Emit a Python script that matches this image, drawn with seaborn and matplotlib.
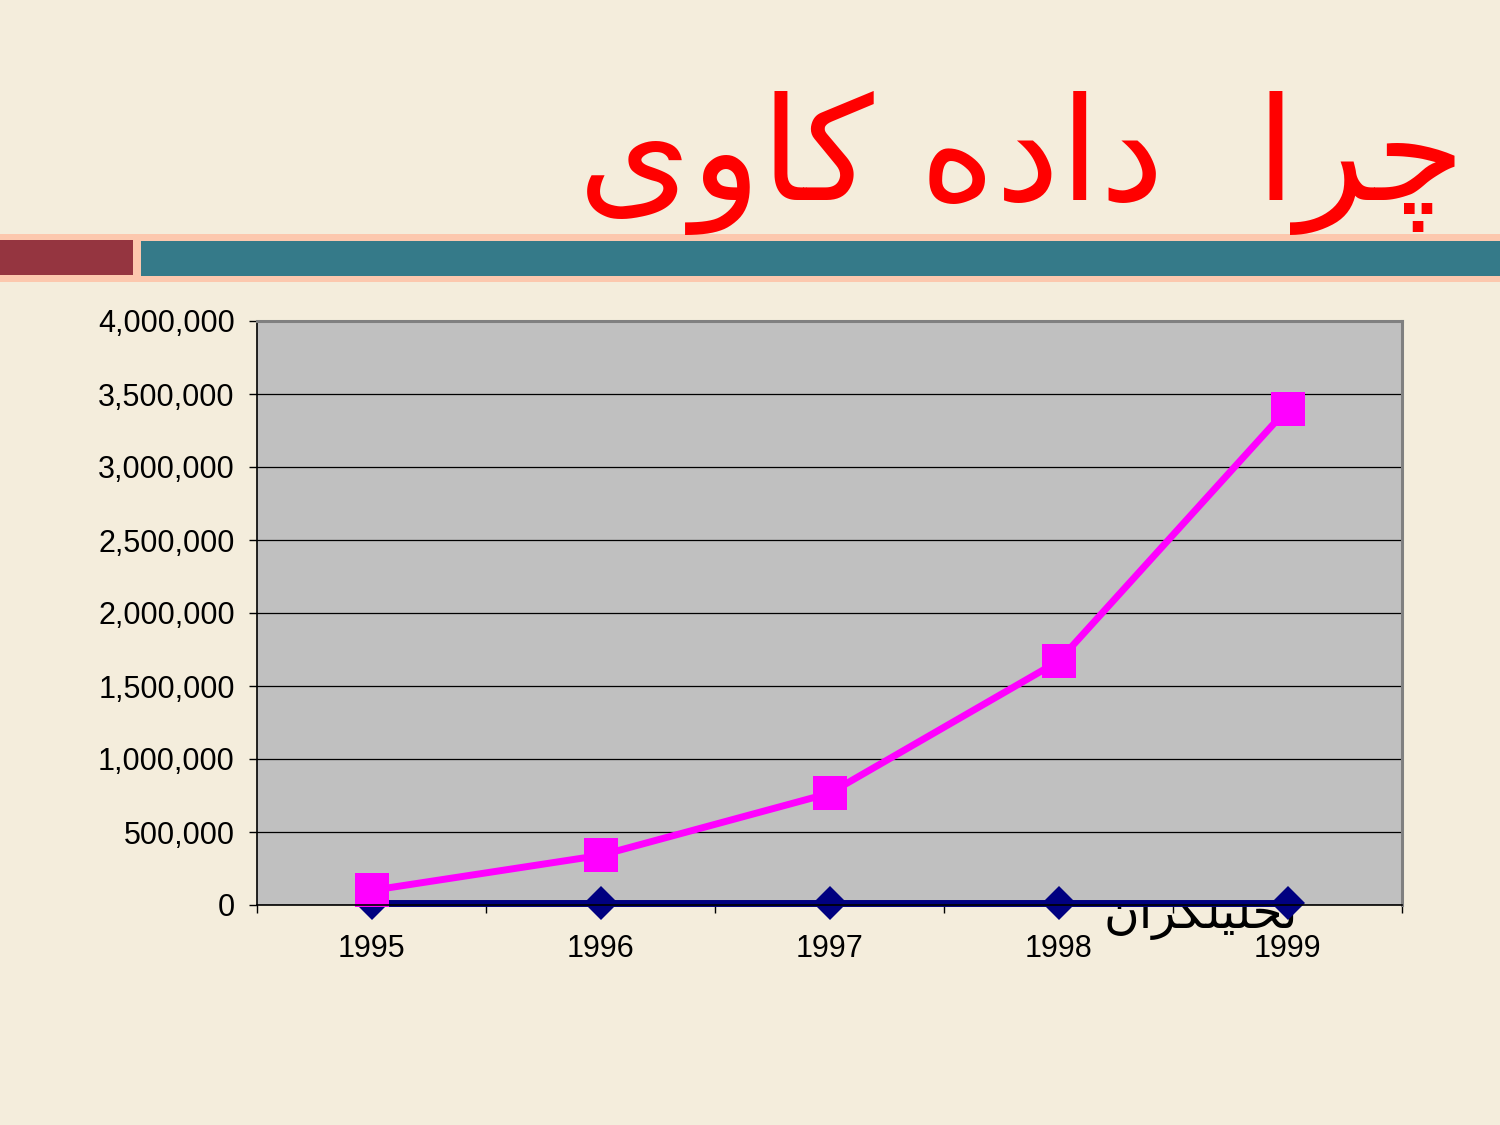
import numpy as np
import pandas as pd
import matplotlib
matplotlib.use("Agg")
import matplotlib.pyplot as plt
import seaborn as sns
from matplotlib.patches import Rectangle
from matplotlib.ticker import FuncFormatter

# Data
years = ["1995", "1996", "1997", "1998", "1999"]
data_volume = [100000, 340000, 765000, 1670000, 3400000]   # magenta squares
analysts = [15000, 15000, 15000, 15000, 15000]              # navy diamonds

# Persian text in visual order with presentation forms (matplotlib has no shaping)
title_text = "\uFBFC\uFEED\uFE8E\uFB90 \uFEE9\uFEA9\uFE8D\uFEA9  \uFE8D\uFEAE\uFB7C"   # چرا داده کاوی
legend_text = "\uFEE5\uFE8D\uFEAE\uFB95\uFEE0\uFBFF\uFEE0\uFEA4\uFE97"              # تحلیلگران

df = pd.DataFrame({
    "pos": list(range(len(years))) * 2,
    "value": analysts + data_volume,
    "series": ["analysts"] * len(years) + ["volume"] * len(years),
})

sns.set_theme(style="white")
plt.rcParams["font.family"] = ["Liberation Sans", "DejaVu Sans"]

fig = plt.figure(figsize=(15, 11.25), dpi=100)
fig.patch.set_facecolor("#F4EDDC")

# header band
W, H = 1500, 1125
def px_rect(x0, y0, x1, y1, color, z=1):
    fig.add_artist(Rectangle((x0 / W, 1 - y1 / H), (x1 - x0) / W, (y1 - y0) / H,
                             transform=fig.transFigure, color=color, zorder=z, lw=0))

px_rect(0, 234, 1500, 282, "#FCC8AE")
px_rect(0, 240, 133, 275, "#953540", 2)
px_rect(141, 241, 1500, 276, "#357A89", 2)

fig.text(1465 / W, 1 - 200 / H, title_text, color="#FF0000", fontsize=104,
         family=["DejaVu Sans"], ha="right", va="baseline")

# legend label sits behind the plot area
fig.text(1298 / W, 1 - 928 / H, legend_text, color="black", fontsize=35,
         family=["DejaVu Sans"], ha="right", va="baseline", zorder=0)

ax = fig.add_axes([257 / W, 1 - 905 / H, (1402 - 257) / W, (905 - 321) / H], zorder=1)
ax.set_facecolor("#C0C0C0")

sns.lineplot(data=df, x="pos", y="value", hue="series", style="series",
             palette={"analysts": "#000080", "volume": "#FF00FF"},
             markers={"analysts": "D", "volume": "s"}, dashes=False,
             markersize=24, markeredgewidth=0, linewidth=5, legend=False, ax=ax)
for line in ax.lines:
    line.set_clip_on(False)
ax.lines[0].set_markersize(17)

ax.set_xlim(-0.5, len(years) - 0.5)
ax.set_ylim(0, 4000000)
ax.set_yticks(np.arange(0, 4000001, 500000))
ax.yaxis.set_major_formatter(FuncFormatter(lambda v, p: f"{int(v):,}"))
ax.set_xticks(range(len(years)))
ax.set_xticklabels(years)
ax.set_xticks(np.arange(-0.5, len(years), 1), minor=True)
ax.set_xlabel("")
ax.set_ylabel("")

ax.grid(axis="y", color="black", linewidth=0.9)
ax.set_axisbelow(True)
ax.tick_params(axis="y", which="major", direction="out", length=6, width=1,
               color="black", left=True, labelsize=22, pad=10, labelcolor="black")
ax.tick_params(axis="x", which="major", length=0, labelsize=22, pad=21, labelcolor="black")
ax.tick_params(axis="x", which="minor", direction="out", length=6, width=1,
               color="black", bottom=True)

for side in ["top", "right"]:
    ax.spines[side].set_color("#808080")
    ax.spines[side].set_linewidth(2.2)
for side in ["left", "bottom"]:
    ax.spines[side].set_color("black")
    ax.spines[side].set_linewidth(1.2)

fig.savefig("out.png", dpi=100, facecolor=fig.get_facecolor())
